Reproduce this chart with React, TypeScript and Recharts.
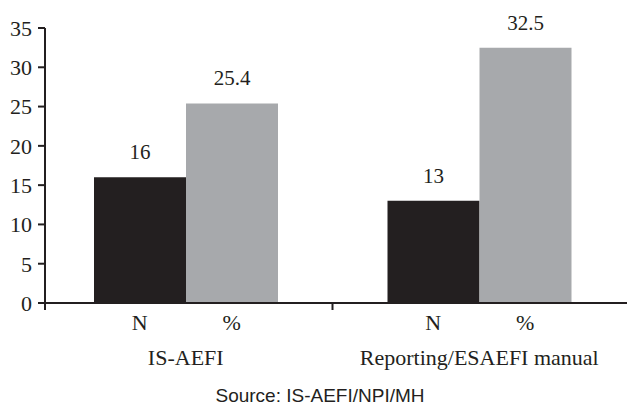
import React from "react";
import { BarChart, Bar, XAxis, YAxis, LabelList } from "recharts";

const categories = ["IS-AEFI", "Reporting/ESAEFI manual"];
const nValues = [16, 13];
const pctValues = [25.4, 32.5];
const subLabels = ["N", "%"];
const yTicks = [0, 5, 10, 15, 20, 25, 30, 35];
const sourceText = "Source: IS-AEFI/NPI/MH";

const data = categories.map((c, i) => ({ name: c, n: nValues[i], pct: pctValues[i] }));

const INK = "#231f20";
const GRAY = "#a7a9ac";
const SERIF = "'Liberation Serif', 'Times New Roman', serif";
const BAR = 92;
const PAD_L = -6;
const PAD_R = 1;

const XTick = (props: any) => {
  const { x, y, payload, index } = props;
  const half = payload && payload.offset ? payload.offset : 146;
  const bx = index === 0 ? x - half - PAD_L : x - half;
  return (
    <g>
      <line x1={bx} x2={bx} y1={y} y2={y + 7} stroke={INK} strokeWidth={2} />
      <text x={x - BAR / 2} y={y + 27} textAnchor="middle" fontFamily={SERIF} fontSize={22} fill={INK}>
        {subLabels[0]}
      </text>
      <text x={x + BAR / 2} y={y + 27} textAnchor="middle" fontFamily={SERIF} fontSize={22} fill={INK}>
        {subLabels[1]}
      </text>
      <text x={x} y={y + 62} textAnchor="middle" fontFamily={SERIF} fontSize={22} fill={INK}>
        {payload.value}
      </text>
    </g>
  );
};

export default function App() {
  return (
    <div style={{ position: "relative", width: 627, height: 405, background: "#fff" }}>
      <style>{`body{margin:0}`}</style>
      <BarChart
        width={627}
        height={405}
        data={data}
        margin={{ top: 28, right: 0, left: 0, bottom: 0 }}
        barGap={0}
      >
        <XAxis
          dataKey="name"
          height={102}
          tickSize={0}
          tickMargin={0}
          tickLine={false}
          padding={{ left: PAD_L, right: PAD_R }}
          axisLine={{ stroke: INK, strokeWidth: 2 }}
          tick={<XTick />}
          interval={0}
        />
        <YAxis
          width={45}
          domain={[0, 35]}
          ticks={yTicks}
          interval={0}
          tickSize={7}
          tickMargin={6}
          axisLine={{ stroke: INK, strokeWidth: 2 }}
          tickLine={{ stroke: INK, strokeWidth: 2 }}
          tick={{ fill: INK, fontSize: 22, fontFamily: SERIF }}
        />
        <Bar dataKey="n" fill={INK} barSize={BAR} isAnimationActive={false}>
          <LabelList dataKey="n" position="top" offset={18} fill={INK} fontSize={21} fontFamily={SERIF} />
        </Bar>
        <Bar dataKey="pct" fill={GRAY} barSize={BAR} isAnimationActive={false}>
          <LabelList dataKey="pct" position="top" offset={18} fill={INK} fontSize={21} fontFamily={SERIF} />
        </Bar>
      </BarChart>
      <div
        style={{
          position: "absolute",
          left: 0,
          top: 385,
          width: 640,
          textAlign: "center",
          fontFamily: "'Liberation Sans', Arial, sans-serif",
          fontSize: 19,
          lineHeight: "21px",
          color: INK,
        }}
      >
        {sourceText}
      </div>
    </div>
  );
}
